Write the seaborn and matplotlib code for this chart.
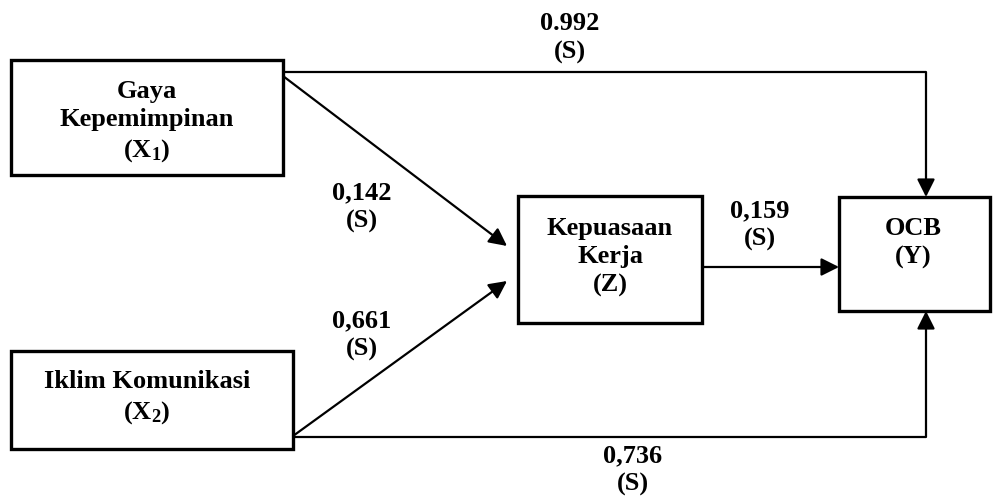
import matplotlib
matplotlib.use("Agg")
import matplotlib.pyplot as plt
import seaborn as sns
from matplotlib.patches import Rectangle

# --------------------------------------------------
# DATA
# --------------------------------------------------

node_names = ["X1", "X2", "Z", "Y"]
node_labels = [
    "Gaya\nKepemimpinan\n(X$_\\mathbf{1}$)",
    "Iklim Komunikasi\n(X$_\\mathbf{2}$)",
    "Kepuasaan\nKerja\n(Z)",
    "OCB\n(Y)",
]

path_coefs = ["0.992", "0,142", "0,661", "0,159", "0,736"]
path_sig = ["(S)", "(S)", "(S)", "(S)", "(S)"]

# --------------------------------------------------
# LAYOUT (pixel coords)
# --------------------------------------------------

# box: left, top, right, bottom
node_boxes = [
    (11, 60, 283, 175),
    (11, 351, 293, 449),
    (518, 196, 702, 323),
    (839, 197, 990, 311),
]
node_text_pos = [(147, 122), (147, 398), (610, 257), (913, 243)]
path_label_pos = [(570, 38), (362, 207), (362, 335), (760, 225), (633, 470)]

# --------------------------------------------------
# FIGURE
# --------------------------------------------------

sns.set_theme(style="white")
plt.rcParams["font.family"] = ["Liberation Serif", "DejaVu Serif"]
plt.rcParams["mathtext.fontset"] = "custom"
plt.rcParams["mathtext.rm"] = "Liberation Serif:bold"
plt.rcParams["mathtext.bf"] = "Liberation Serif:bold"
plt.rcParams["mathtext.it"] = "Liberation Serif:bold"

fig = plt.figure(figsize=(9.99, 4.97), dpi=100)
ax = fig.add_axes([0, 0, 1, 1])
ax.set_xlim(0, 999)
ax.set_ylim(497, 0)
ax.axis("off")

text_kw = dict(ha="center", va="center", fontsize=19, fontweight="bold",
               color="black", linespacing=1.3)

for (l, t, r, b), (tx, ty), label in zip(node_boxes, node_text_pos,
                                         node_labels):
    ax.add_patch(Rectangle((l, t), r - l, b - t, fill=False,
                           edgecolor="black", linewidth=2.4))
    ax.text(tx, ty, label, **text_kw)

line_kw = dict(color="black", linewidth=1.6, solid_capstyle="butt")
arrow_kw = dict(arrowstyle="-|>,head_length=0.9,head_width=0.45",
                color="black", lw=1.6, shrinkA=0, shrinkB=0)

# X1 -> Y (over the top)
ax.plot([283, 926], [72, 72], **line_kw)
ax.annotate("", xy=(926, 197), xytext=(926, 72), arrowprops=arrow_kw)

# X2 -> Y (along the bottom)
ax.plot([293, 926], [437, 437], **line_kw)
ax.annotate("", xy=(926, 311), xytext=(926, 437), arrowprops=arrow_kw)

# X1 -> Z, X2 -> Z
ax.annotate("", xy=(507, 246), xytext=(283, 76), arrowprops=arrow_kw)
ax.annotate("", xy=(507, 281), xytext=(293, 436), arrowprops=arrow_kw)

# Z -> Y
ax.annotate("", xy=(839, 267), xytext=(702, 267), arrowprops=arrow_kw)

for (x, y), coef, sig in zip(path_label_pos, path_coefs, path_sig):
    ax.text(x, y, coef + "\n" + sig, **text_kw)

plt.savefig("out.png", dpi=100)
